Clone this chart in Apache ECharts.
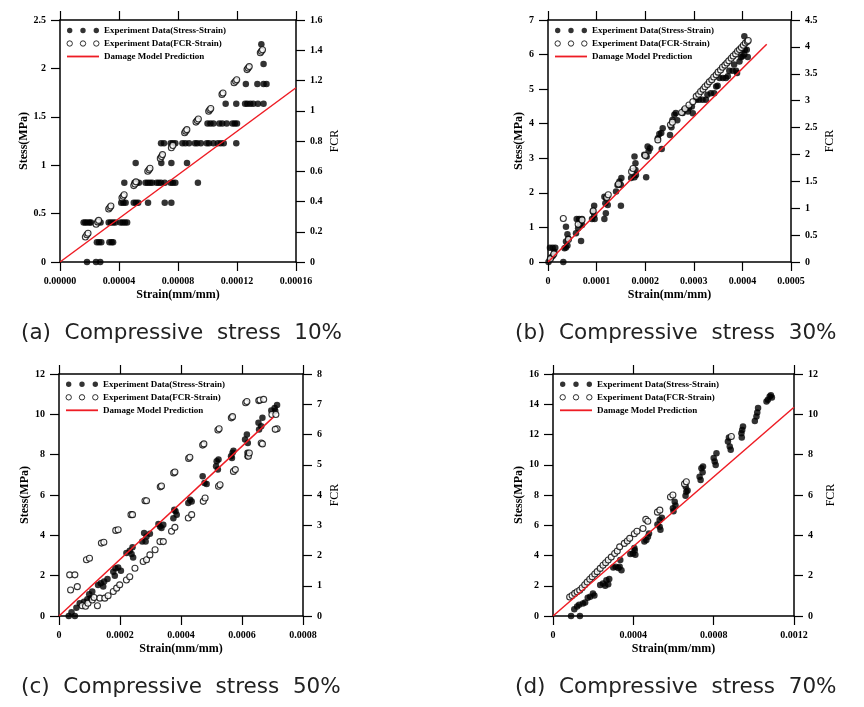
<!DOCTYPE html>
<html><head><meta charset="utf-8">
<script src="https://cdn.jsdelivr.net/npm/echarts@6/dist/echarts.min.js"></script>
<style>html,body{margin:0;padding:0;background:#fff}#c{width:864px;height:707px}</style>
</head><body><div id="c"></div>
<script>
// ---------------- DATA ----------------
const SERIES_NAMES = ['Experiment Data(Stress-Strain)', 'Experiment Data(FCR-Strain)', 'Damage Model Prediction'];
const CAPTIONS = ['(a)  Compressive  stress  10%', '(b)  Compressive  stress  30%', '(c)  Compressive  stress  50%', '(d)  Compressive  stress  70%'];
const X_NAME = 'Strain(mm/mm)';
const Y_NAME = 'Stess(MPa)';
const F_NAME = 'FCR';

// axis ranges [min, max, interval]
const aX = [0, 0.00016, 0.00004], aY = [0, 2.5, 0.5], aF = [0, 1.6, 0.2];
const bX = [0, 0.0005, 0.0001],  bY = [0, 7, 1],     bF = [0, 4.5, 0.5];
const cX = [0, 0.0008, 0.0002],  cY = [0, 12, 2],    cF = [0, 8, 1];
const dX = [0, 0.0012, 0.0004],  dY = [0, 16, 2],    dF = [0, 12, 2];

const aXLabels = ['0.00000', '0.00004', '0.00008', '0.00012', '0.00016'];
const bXLabels = ['0', '0.0001', '0.0002', '0.0003', '0.0004', '0.0005'];
const cXLabels = ['0', '0.0002', '0.0004', '0.0006', '0.0008'];
const dXLabels = ['0', '0.0004', '0.0008', '0.0012'];

// (a) 10%
const aStress = [
  [1.83e-5,0],[2.44e-5,0],[2.73e-5,0],
  [2.5e-5,0.204],[2.65e-5,0.204],[2.8e-5,0.204],[3.35e-5,0.204],[3.5e-5,0.204],[3.6e-5,0.204],
  [1.6e-5,0.409],[1.72e-5,0.409],[1.85e-5,0.409],[2.0e-5,0.409],[2.1e-5,0.409],[2.55e-5,0.409],[2.75e-5,0.409],
  [3.3e-5,0.409],[3.45e-5,0.409],[3.6e-5,0.409],[3.75e-5,0.409],[4.1e-5,0.409],[4.25e-5,0.409],[4.4e-5,0.409],[4.55e-5,0.409],
  [4.15e-5,0.613],[4.3e-5,0.613],[4.45e-5,0.613],[5.0e-5,0.613],[5.15e-5,0.613],[5.3e-5,0.613],[5.97e-5,0.613],[7.1e-5,0.613],[7.55e-5,0.613],
  [4.36e-5,0.818],[5.05e-5,0.818],[5.2e-5,0.818],[5.35e-5,0.818],[5.8e-5,0.818],[5.95e-5,0.818],[6.1e-5,0.818],[6.25e-5,0.818],
  [6.55e-5,0.818],[6.7e-5,0.818],[6.85e-5,0.818],[7.1e-5,0.818],[7.5e-5,0.818],[7.65e-5,0.818],[7.82e-5,0.818],[9.35e-5,0.818],
  [5.13e-5,1.022],[6.87e-5,1.022],[7.55e-5,1.022],[8.61e-5,1.022],
  [6.85e-5,1.227],[7.05e-5,1.227],[7.5e-5,1.227],[7.65e-5,1.227],[7.82e-5,1.227],[8.3e-5,1.227],[8.5e-5,1.227],[8.75e-5,1.227],
  [9.15e-5,1.227],[9.3e-5,1.227],[9.55e-5,1.227],[9.95e-5,1.227],[1.01e-4,1.227],[1.04e-4,1.227],[1.07e-4,1.227],[1.09e-4,1.227],[1.11e-4,1.227],[1.195e-4,1.227],
  [1.0e-4,1.431],[1.02e-4,1.431],[1.04e-4,1.431],[1.08e-4,1.431],[1.1e-4,1.431],[1.13e-4,1.431],[1.17e-4,1.431],[1.185e-4,1.431],[1.2e-4,1.431],
  [1.123e-4,1.636],[1.195e-4,1.636],[1.255e-4,1.636],[1.27e-4,1.636],[1.29e-4,1.636],[1.31e-4,1.636],[1.342e-4,1.636],[1.38e-4,1.636],
  [1.26e-4,1.84],[1.338e-4,1.84],[1.38e-4,1.84],[1.4e-4,1.84],
  [1.38e-4,2.045],[1.365e-4,2.25]
];
const aFcr = [
  [1.72e-5,0.165],[1.82e-5,0.18],[1.9e-5,0.19],
  [2.45e-5,0.25],[2.55e-5,0.265],[2.62e-5,0.275],
  [3.3e-5,0.35],[3.38e-5,0.36],[3.45e-5,0.37],
  [4.2e-5,0.425],[4.28e-5,0.435],[4.35e-5,0.445],
  [5.0e-5,0.505],[5.08e-5,0.516],[5.15e-5,0.53],
  [5.95e-5,0.6],[6.03e-5,0.61],[6.1e-5,0.62],
  [6.8e-5,0.685],[6.88e-5,0.697],[6.95e-5,0.71],
  [7.55e-5,0.755],[7.65e-5,0.77],
  [8.45e-5,0.855],[8.52e-5,0.865],[8.6e-5,0.875],
  [9.22e-5,0.925],[9.3e-5,0.935],[9.38e-5,0.945],
  [1.008e-4,0.997],[1.015e-4,1.006],[1.022e-4,1.015],
  [1.098e-4,1.108],[1.105e-4,1.117],
  [1.18e-4,1.185],[1.19e-4,1.195],[1.198e-4,1.205],
  [1.268e-4,1.272],[1.275e-4,1.282],[1.283e-4,1.292],
  [1.358e-4,1.383],[1.365e-4,1.393],[1.373e-4,1.403]
];
const aModel = [[0, 0], [0.00016, 1.8]];

// (b) 30%
const bStress = [
  [1e-6,0],[4e-6,0.08],[7e-6,0.14],[1e-5,0.18],[4e-6,0.415],[9.6e-6,0.415],[1.5e-5,0.415],[1.3e-5,0.3],
  [3.15e-5,0],[3.4e-5,0.4],[3.7e-5,0.42],[4e-5,0.48],[3.7e-5,0.59],[4.2e-5,0.67],[3.7e-5,1.02],[4e-5,0.8],
  [5.76e-5,0.83],[6.2e-5,0.975],[5.9e-5,1.245],[6.4e-5,1.245],[7e-5,1.245],[6.8e-5,0.61],[7e-5,1.07],[6.6e-5,1.1],
  [9.05e-5,1.245],[9.6e-5,1.245],[9.5e-5,1.36],[9.25e-5,1.46],[9.5e-5,1.63],
  [1.16e-4,1.245],[1.19e-4,1.41],[1.18e-4,1.7],[1.23e-4,1.65],[1.2e-4,1.84],[1.16e-4,1.89],
  [1.5e-4,1.63],
  [1.4e-4,2.04],[1.43e-4,2.23],[1.47e-4,2.33],[1.51e-4,2.43],[1.5e-4,2.23],
  [1.71e-4,2.43],[1.78e-4,2.45],[1.81e-4,2.52],[1.8e-4,2.66],[1.8e-4,2.86],[1.78e-4,3.05],
  [2.02e-4,2.45],
  [1.98e-4,3.1],[2.03e-4,3.05],[2.07e-4,3.2],[2.1e-4,3.29],[2.05e-4,3.34],
  [2.34e-4,3.27],
  [2.26e-4,3.58],[2.29e-4,3.7],[2.33e-4,3.73],[2.36e-4,3.87],
  [2.51e-4,3.67],[2.54e-4,3.9],[2.56e-4,4.11],[2.6e-4,4.26],[2.63e-4,4.31],[2.66e-4,4.1],
  [2.77e-4,4.31],[2.8e-4,4.4],[2.88e-4,4.35],[2.9e-4,4.45],[2.96e-4,4.5],[2.98e-4,4.3],
  [3.05e-4,4.69],[3.11e-4,4.69],[3.18e-4,4.69],[3.25e-4,4.69],[3.28e-4,4.84],[3.35e-4,4.88],[3.42e-4,4.88],[3.46e-4,5.08],[3.49e-4,5.1],
  [3.53e-4,5.32],[3.6e-4,5.32],[3.66e-4,5.32],[3.7e-4,5.37],
  [3.73e-4,5.53],[3.8e-4,5.53],[3.87e-4,5.53],[3.83e-4,5.71],[3.89e-4,5.47],
  [3.94e-4,5.8],[3.97e-4,5.92],[4.0e-4,5.95],[4.04e-4,6.0],
  [3.99e-4,6.14],[4.05e-4,6.14],[4.09e-4,6.14],[4.11e-4,5.93],[4.04e-4,6.53]
];
const bFcr = [
  [5e-6,0.06],[1.2e-5,0.15],[3.15e-5,0.81],[4.2e-5,0.42],[6.2e-5,0.7],[7e-5,0.78],[9.3e-5,0.95],
  [1.21e-4,1.2],[1.24e-4,1.25],[1.45e-4,1.45],[1.72e-4,1.68],[1.75e-4,1.74],[2.0e-4,1.98],
  [2.26e-4,2.27],[2.52e-4,2.55],[2.56e-4,2.6],[2.75e-4,2.78],[2.82e-4,2.85],[2.9e-4,2.92],[2.98e-4,2.98],
  [3.05e-4,3.08],[3.1e-4,3.12],[3.14e-4,3.17],[3.19e-4,3.21],[3.23e-4,3.26],[3.28e-4,3.3],[3.32e-4,3.35],
  [3.37e-4,3.39],[3.41e-4,3.44],[3.46e-4,3.48],[3.5e-4,3.53],[3.55e-4,3.57],[3.59e-4,3.62],[3.64e-4,3.66],
  [3.68e-4,3.7],[3.72e-4,3.74],[3.77e-4,3.79],[3.81e-4,3.83],[3.86e-4,3.87],[3.9e-4,3.92],[3.94e-4,3.95],
  [3.98e-4,3.99],[4.02e-4,4.03],[4.06e-4,4.07],[4.1e-4,4.1],[4.12e-4,4.12]
];
const bModel = [[0, 0], [0.00045, 6.3]];

// (c) 50%
const cStress = [
  [3.2e-5,0],[5.2e-5,0],[4.1e-5,0.18],[5.7e-5,0.41],[6.8e-5,0.63],[8.2e-5,0.71],[9.3e-5,0.83],[9.9e-5,1.08],[1.09e-4,1.21],[1.04e-4,0.88],
  [1.28e-4,1.54],[1.37e-4,1.62],[1.45e-4,1.46],[1.48e-4,1.71],[1.59e-4,1.84],
  [1.78e-4,2.2],[1.85e-4,2.37],[1.94e-4,2.4],[2.03e-4,2.24],[1.83e-4,2.0],
  [2.21e-4,3.12],[2.32e-4,3.23],[2.41e-4,3.41],[2.43e-4,2.9],[2.38e-4,3.07],
  [2.73e-4,3.7],[2.79e-4,4.11],[2.87e-4,3.94],[2.98e-4,4.08],[2.84e-4,3.7],
  [3.26e-4,4.56],[3.31e-4,4.44],[3.36e-4,4.36],[3.42e-4,4.52],
  [3.75e-4,4.85],[3.78e-4,5.27],[3.82e-4,5.19],[3.86e-4,5.02],
  [4.24e-4,5.6],[4.3e-4,5.77],[4.35e-4,5.68],
  [4.71e-4,6.93],[4.77e-4,6.6],[4.84e-4,6.55],
  [5.15e-4,7.42],[5.17e-4,7.67],[5.23e-4,7.76],[5.21e-4,7.26],
  [5.64e-4,7.92],[5.69e-4,8.09],[5.72e-4,8.2],[5.67e-4,7.84],
  [6.1e-4,8.75],[6.16e-4,9.0],[6.19e-4,8.58],[6.18e-4,7.92],[6.18e-4,8.1],
  [6.56e-4,9.25],[6.63e-4,9.41],[6.67e-4,9.83],[6.54e-4,9.58],
  [6.96e-4,10.19],[7.07e-4,10.32],[7.15e-4,10.46],[7.09e-4,10.16]
];
const cFcr = [
  [3.5e-5,1.36],[5.2e-5,1.36],[3.8e-5,0.86],[6.0e-5,0.97],
  [9.0e-5,1.86],[1.0e-4,1.91],[1.39e-4,2.41],[1.47e-4,2.44],[1.86e-4,2.83],[1.94e-4,2.85],
  [2.36e-4,3.35],[2.41e-4,3.35],[2.82e-4,3.81],[2.87e-4,3.81],[3.32e-4,4.27],[3.36e-4,4.3],
  [3.76e-4,4.73],[3.8e-4,4.76],[4.25e-4,5.21],[4.29e-4,5.25],[4.71e-4,5.65],[4.75e-4,5.69],
  [5.21e-4,6.15],[5.25e-4,6.19],[5.65e-4,6.55],[5.69e-4,6.59],[6.12e-4,7.05],[6.16e-4,7.09],
  [6.55e-4,7.12],[6.59e-4,7.14],[6.71e-4,7.16],
  [7.6e-5,0.34],[8.7e-5,0.32],[9.5e-5,0.42],[1.09e-4,0.53],[1.15e-4,0.61],[1.26e-4,0.34],[1.34e-4,0.59],
  [1.5e-4,0.59],[1.61e-4,0.67],[1.78e-4,0.81],[1.89e-4,0.92],[1.99e-4,1.03],[2.21e-4,1.19],[2.32e-4,1.3],
  [2.49e-4,1.58],[2.76e-4,1.8],[2.87e-4,1.86],[2.98e-4,2.02],[3.15e-4,2.19],[3.31e-4,2.46],[3.42e-4,2.46],
  [3.69e-4,2.8],[3.8e-4,2.93],[4.24e-4,3.24],[4.35e-4,3.35],[4.73e-4,3.79],[4.79e-4,3.9],
  [5.23e-4,4.29],[5.28e-4,4.34],[5.72e-4,4.78],[5.78e-4,4.84],[6.21e-4,5.28],[6.24e-4,5.39],
  [6.63e-4,5.72],[6.67e-4,5.69],[6.98e-4,6.66],[7.11e-4,6.66],[7.15e-4,6.19],[7.09e-4,6.17]
];
const cModel = [[0, 0], [0.000703, 9.86]];

// (d) 70%
const dStress = [
  [9e-5,0],[1.34e-4,0],[1.06e-4,0.45],[1.2e-4,0.62],[1.3e-4,0.75],[1.49e-4,0.82],[1.6e-4,0.9],
  [1.73e-4,1.2],[1.85e-4,1.28],[1.99e-4,1.48],[2.06e-4,1.35],
  [2.35e-4,2.05],[2.49e-4,2.15],[2.6e-4,2.0],[2.66e-4,2.37],[2.75e-4,2.1],[2.8e-4,2.45],
  [3.0e-4,3.2],[3.12e-4,3.25],[3.25e-4,3.18],[3.32e-4,3.25],[3.41e-4,3.03],[3.35e-4,3.7],
  [3.85e-4,4.1],[3.98e-4,4.14],[4.07e-4,4.35],[4.1e-4,4.05],[4.05e-4,4.5],
  [4.55e-4,4.93],[4.65e-4,5.02],[4.73e-4,5.24],[4.78e-4,5.45],
  [5.2e-4,6.05],[5.31e-4,5.9],[5.31e-4,6.34],[5.35e-4,5.7],[5.42e-4,6.5],
  [5.97e-4,7.12],[6.06e-4,7.56],[6.1e-4,7.3],[6.0e-4,6.92],
  [6.6e-4,7.95],[6.64e-4,8.22],[6.61e-4,8.55],[6.7e-4,8.3],
  [7.3e-4,9.21],[7.39e-4,9.77],[7.35e-4,9.0],[7.45e-4,9.5],[7.47e-4,9.88],
  [8.05e-4,10.21],[8.14e-4,10.76],[8.1e-4,9.99],[8.0e-4,10.45],
  [8.71e-4,11.53],[8.8e-4,11.2],[8.76e-4,11.8],[8.85e-4,11.0],
  [9.38e-4,12.09],[9.46e-4,12.53],[9.42e-4,12.3],[9.4e-4,11.8],
  [1.013e-3,13.19],[1.021e-3,13.75],[1.005e-3,12.9],[1.017e-3,13.45],
  [1.063e-3,14.18],[1.079e-3,14.52],[1.07e-3,14.3],[1.085e-3,14.6],[1.09e-3,14.45]
];
const dFcr = [
  [8.3e-5,0.94],[9.5e-5,1.02],[1.08e-4,1.12],[1.2e-4,1.2],[1.33e-4,1.28],[1.45e-4,1.4],[1.58e-4,1.55],
  [1.7e-4,1.68],[1.83e-4,1.82],[1.95e-4,1.95],[2.08e-4,2.08],[2.2e-4,2.2],[2.35e-4,2.36],[2.49e-4,2.52],
  [2.62e-4,2.64],[2.75e-4,2.78],[2.9e-4,2.92],[3.07e-4,3.1],[3.2e-4,3.22],[3.32e-4,3.43],[3.55e-4,3.6],
  [3.7e-4,3.72],[3.82e-4,3.85],[4.05e-4,4.08],[4.18e-4,4.2],[4.48e-4,4.34],[4.62e-4,4.79],[4.72e-4,4.7],
  [5.2e-4,5.15],[5.32e-4,5.25],[5.85e-4,5.9],[5.97e-4,6.0],[6.55e-4,6.55],[6.64e-4,6.66],[8.88e-4,8.9]
];
const dModel = [[0, 0], [0.0012, 13.8]];

// ---------------- BUILD ----------------
const SERIF = "'Liberation Serif','Times New Roman',serif";
const RED = '#ee1c24';
const FILLED_ICON = 'path://M0,2.7a2.7,2.7 0 1,0 5.4,0a2.7,2.7 0 1,0 -5.4,0Z M13.3,2.7a2.7,2.7 0 1,0 5.4,0a2.7,2.7 0 1,0 -5.4,0Z M26.6,2.7a2.7,2.7 0 1,0 5.4,0a2.7,2.7 0 1,0 -5.4,0Z';
const LINE_ICON = 'path://M0,0L32,0L32,1.8L0,1.8Z';

const panels = [
  {x:aX, y:aY, f:aF, xl:aXLabels, s:aStress, h:aFcr, m:aModel,
   grid:{left:60, top:20, width:236, height:242}, leg:{left:66.5, top:24.5}, yGap:29, fGap:33, cap:{left:21, top:322.5}},
  {x:bX, y:bY, f:bF, xl:bXLabels, s:bStress, h:bFcr, m:bModel,
   grid:{left:548, top:20, width:243, height:242}, leg:{left:554.5, top:24.5}, yGap:22, fGap:33, cap:{left:515, top:322.5}},
  {x:cX, y:cY, f:cF, xl:cXLabels, s:cStress, h:cFcr, m:cModel,
   grid:{left:59, top:374, width:244, height:242}, leg:{left:65.5, top:378.3}, yGap:28, fGap:26, cap:{left:21, top:676.5}},
  {x:dX, y:dY, f:dF, xl:dXLabels, s:dStress, h:dFcr, m:dModel,
   grid:{left:553, top:374, width:241, height:242}, leg:{left:559.5, top:378.3}, yGap:28, fGap:31, cap:{left:515, top:676.5}}
];

const lineStyleAxis = {color:'#000', width:1.5};
const tickStyle = {show:true, inside:false, length:9, lineStyle:{color:'#000', width:1.2}};
const labelStyle = {fontFamily:SERIF, fontWeight:'bold', fontSize:10, color:'#000'};

const option = {animation:false, backgroundColor:'#fff', grid:[], xAxis:[], yAxis:[], series:[], legend:[], title:[]};

panels.forEach((p, i) => {
  option.grid.push(Object.assign({containLabel:false}, p.grid));
  const xr = p.x;
  option.xAxis.push({
    type:'value', gridIndex:i, position:'bottom', min:xr[0], max:xr[1], interval:xr[2],
    axisLine:{show:true, onZero:false, lineStyle:lineStyleAxis}, axisTick:tickStyle, splitLine:{show:false},
    axisLabel:Object.assign({margin:14, formatter:(v) => p.xl[Math.round((v - xr[0]) / xr[2])]}, labelStyle),
    name:X_NAME, nameLocation:'middle', nameGap:27,
    nameTextStyle:{fontFamily:SERIF, fontWeight:'bold', fontSize:12, color:'#000'}
  });
  option.xAxis.push({
    type:'value', gridIndex:i, position:'top', min:xr[0], max:xr[1], interval:xr[2],
    axisLine:{show:true, onZero:false, lineStyle:lineStyleAxis}, axisTick:tickStyle, splitLine:{show:false},
    axisLabel:{show:false}
  });
  option.yAxis.push({
    type:'value', gridIndex:i, position:'left', min:p.y[0], max:p.y[1], interval:p.y[2],
    axisLine:{show:true, onZero:false, lineStyle:lineStyleAxis}, axisTick:tickStyle, splitLine:{show:false},
    axisLabel:Object.assign({margin:14}, labelStyle),
    name:Y_NAME, nameLocation:'middle', nameRotate:90, nameGap:p.yGap,
    nameTextStyle:{fontFamily:SERIF, fontWeight:'bold', fontSize:12, color:'#000'}
  });
  option.yAxis.push({
    type:'value', gridIndex:i, position:'right', min:p.f[0], max:p.f[1], interval:p.f[2],
    axisLine:{show:true, onZero:false, lineStyle:lineStyleAxis}, axisTick:tickStyle, splitLine:{show:false},
    axisLabel:Object.assign({margin:14}, labelStyle),
    name:F_NAME, nameLocation:'middle', nameRotate:90, nameGap:p.fGap,
    nameTextStyle:{fontFamily:SERIF, fontWeight:'normal', fontSize:12, color:'#000'}
  });
  option.series.push({
    type:'scatter', name:SERIES_NAMES[0], xAxisIndex:2*i, yAxisIndex:2*i, data:p.s,
    symbol:'circle', symbolSize:6.5, itemStyle:{color:'#000', borderWidth:0}, silent:true
  });
  option.series.push({
    type:'scatter', name:SERIES_NAMES[1], xAxisIndex:2*i, yAxisIndex:2*i+1, data:p.h,
    symbol:'circle', symbolSize:6, itemStyle:{color:'#fff', borderColor:'#000', borderWidth:1.1}, silent:true
  });
  option.series.push({
    type:'line', name:SERIES_NAMES[2], xAxisIndex:2*i, yAxisIndex:2*i, data:p.m,
    symbol:'none', showSymbol:false, lineStyle:{color:RED, width:1.5}, itemStyle:{color:RED}, silent:true
  });
  option.legend.push({
    orient:'vertical', left:p.leg.left, top:p.leg.top, padding:0, itemWidth:32, itemHeight:5.4, itemGap:1,
    selectedMode:false,
    textStyle:{fontFamily:SERIF, fontWeight:'bold', fontSize:9, lineHeight:12, color:'#000'},
    data:[
      {name:SERIES_NAMES[0], icon:FILLED_ICON, itemStyle:{color:'#000', borderWidth:0}},
      {name:SERIES_NAMES[1], icon:FILLED_ICON, itemStyle:{color:'#fff', borderColor:'#000', borderWidth:1}},
      {name:SERIES_NAMES[2], icon:LINE_ICON, itemStyle:{color:RED, borderWidth:0}}
    ]
  });
  option.title.push({
    text:CAPTIONS[i], left:p.cap.left, top:p.cap.top, padding:0,
    textStyle:{fontFamily:"'DejaVu Sans', sans-serif", fontSize:21.5, fontWeight:'normal', color:'#222'}
  });
});

const chart = echarts.init(document.getElementById('c'), null, {renderer:'canvas'});
chart.setOption(option);
</script>
</body></html>
